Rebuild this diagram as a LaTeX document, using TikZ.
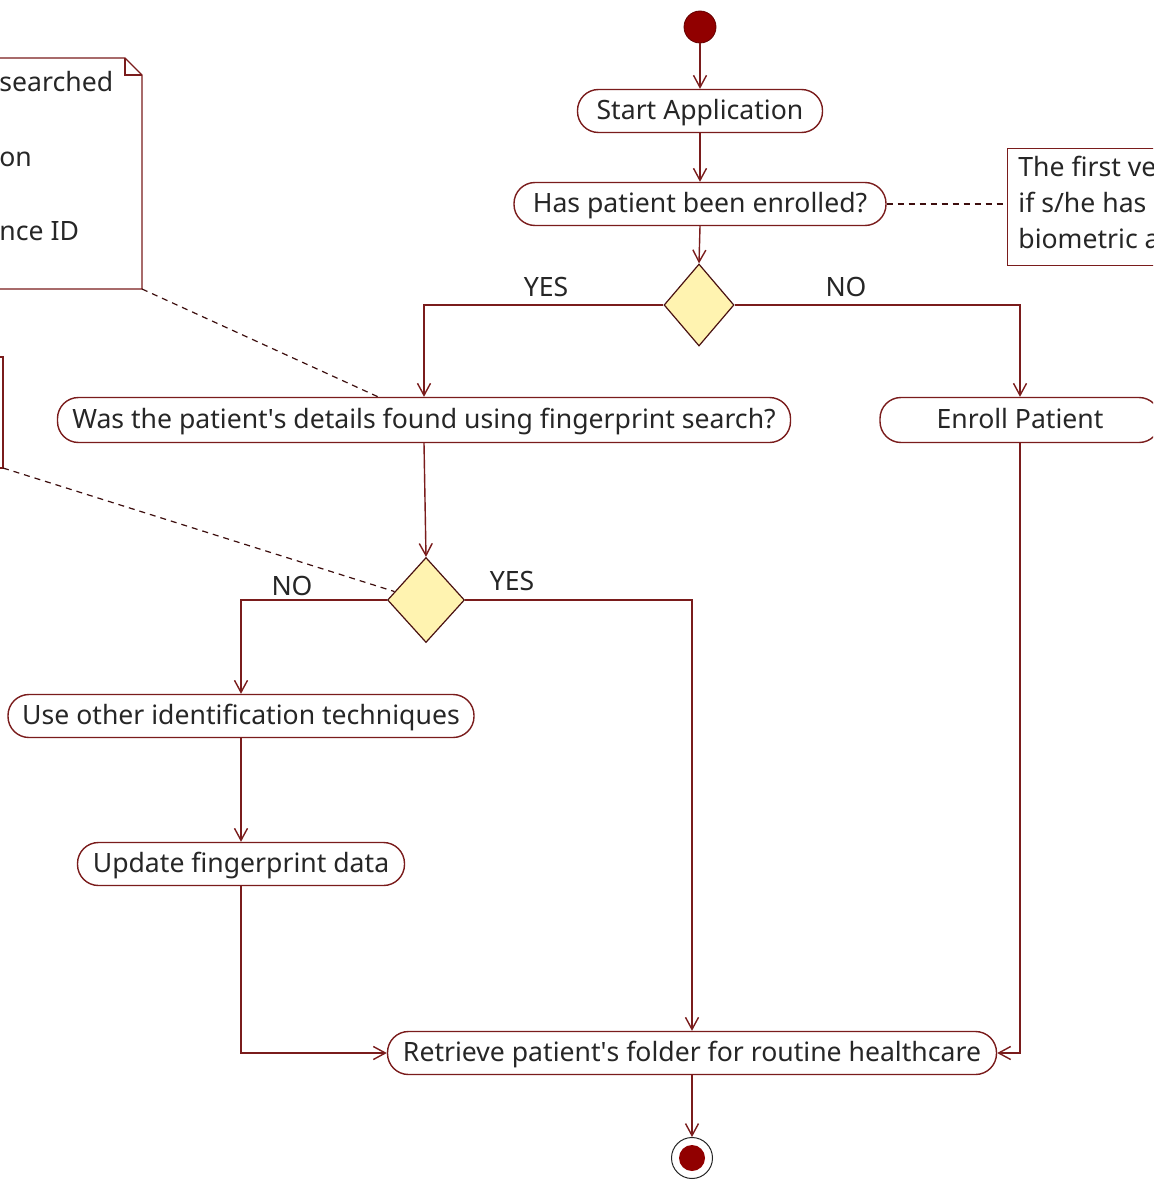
\documentclass[tikz,border=0pt]{standalone}
\usepackage{fontspec}
\setmainfont{Noto Sans}
\usetikzlibrary{shapes.geometric,arrows.meta,calc}
\definecolor{edge}{RGB}{122,28,28}
\definecolor{textc}{RGB}{38,38,38}
\definecolor{decfill}{RGB}{255,243,176}
\definecolor{dot}{RGB}{145,0,0}
\newcommand{\dfont}{\fontsize{13.3}{16}\selectfont}
% straight apostrophe, set as a glyph so the TeX mapping leaves it alone
\newcommand{\apos}{\XeTeXglyph\XeTeXcharglyph"0027\relax}

\begin{document}
\begin{tikzpicture}[x=0.5pt,y=-0.5pt,
  act/.style={draw=edge, line width=0.7pt, rounded corners=10.5pt, fill=white,
    text=textc, font=\dfont, minimum height=21.5pt, inner sep=0pt,
    text height=0.82em, text depth=0pt},
  dec/.style={diamond, draw=edge!60!black, line width=0.6pt, fill=decfill,
    inner sep=0pt},
  flow/.style={draw=edge, line width=0.7pt, -{Straight Barb[length=6pt,width=6.5pt]}},
  lbl/.style={text=textc, font=\dfont, inner sep=0pt, text height=0.82em, text depth=0pt},
  note/.style={draw=edge, line width=0.7pt, fill=white},
  notetxt/.style={text=textc, font=\dfont, anchor=west, inner sep=0pt,
    text height=0.82em, text depth=0pt},
  link/.style={draw=edge!50!black, line width=0.6pt, dash pattern=on 3pt off 2.5pt}]

\useasboundingbox (0,0) rectangle (1153,1182);
\clip (0,0) rectangle (1153,1182);
\fill[white] (0,0) rectangle (1153,1182);

% ---- notes ----
\coordinate (n1corner) at (142,289);
\path[note] (-10,58) -- (125,58) -- (142,75) -- (n1corner) -- (-10,289) -- cycle;
\draw[edge, line width=0.6pt] (125,58) -- (125,75) -- (142,75);
\node[notetxt] (n1a) at (-1,83) {searched};
\node[notetxt] (n1b) at (-1,158) {on};
\node[notetxt] (n1c) at (-1,232) {nce ID};

\coordinate (n2corner) at (3,468);
\path[note] (-10,357) -- (3,357) -- (n2corner) -- (-10,468) -- cycle;

\node[note, anchor=north west, minimum width=120pt, minimum height=58.5pt, inner sep=0pt]
  (n3) at (1007,148) {};
\node[notetxt] (n3a) at (1018,168) {The first ve};
\node[notetxt] (n3b) at (1018,204) {if s/he has};
\node[notetxt] (n3c) at (1018,240) {biometric a};

% ---- activity nodes ----
\node[circle, fill=dot, draw=dot!70!black, line width=0.4pt, minimum size=16pt, inner sep=0pt]
  (init) at (700,27) {};
\node[act, minimum width=122.5pt] (start) at (700,111) {Start Application};
\node[act, minimum width=186pt] (enrolled) at (700,204) {Has patient been enrolled?};
\node[dec, minimum width=35pt, minimum height=41pt] (dec1) at (699,305) {};
\node[act, minimum width=366.5pt, minimum height=22.5pt] (was) at (424,420)
  {Was the patient\apos s details found using fingerprint search?};
\node[act, minimum width=140pt, minimum height=22.5pt] (enroll) at (1020,420) {Enroll Patient};
\node[dec, minimum width=38.5pt, minimum height=42.5pt] (dec2) at (426,600) {};
\node[act, minimum width=233pt] (other) at (241,716) {Use other identification techniques};
\node[act, minimum width=163.5pt] (update) at (241,864) {Update fingerprint data};
\node[act, minimum width=304.5pt] (retrieve) at (692,1053)
  {Retrieve patient\apos s folder for routine healthcare};
\node[circle, draw=textc, line width=0.5pt, fill=white, minimum size=20.5pt, inner sep=0pt]
  (final) at (692,1158) {};
\node[circle, fill=dot, minimum size=13pt, inner sep=0pt] (finaldot) at (final) {};

% ---- guard labels ----
\node[lbl] (yes1) at (546,288) {YES};
\node[lbl] (no1) at (846,288) {NO};
\node[lbl] (no2) at (292,587) {NO};
\node[lbl] (yes2) at (512,582) {YES};

% ---- control flow ----
\draw[flow] (init) -- (start);
\draw[flow] (start) -- (enrolled);
\draw[flow] (enrolled.south) -- (dec1.north);
\draw[flow] (dec1.west) -| (was.north);
\draw[flow] (dec1.east) -| (enroll.north);
\draw[flow] (was.south) -- (dec2.north);
\draw[flow] (dec2.west) -| (other.north);
\draw[flow] (dec2.east) -| (retrieve.north);
\draw[flow] (other.south) -- (update.north);
\draw[flow] (update.south) |- (retrieve.west);
\draw[flow] (enroll.south) |- (retrieve.east);
\draw[flow] (retrieve.south) -- (final.north);

% ---- note attachments ----
\draw[link] (n1corner) -- ($(was.north)+(-46,0)$);
\draw[link] (n2corner) -- (dec2.165);
\draw[link] (enrolled.east) -- (enrolled.east -| n3.west);
\end{tikzpicture}
\end{document}
